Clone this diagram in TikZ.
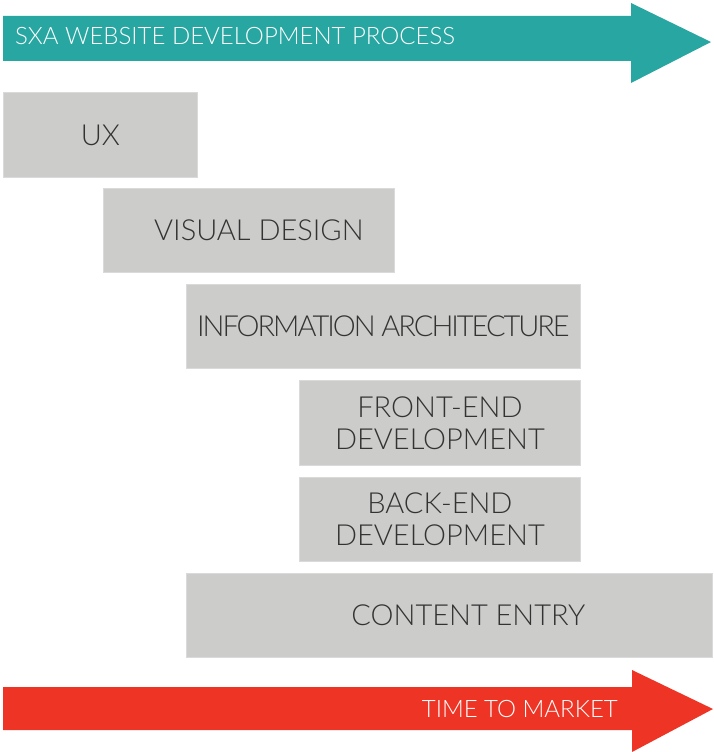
\documentclass[tikz,border=0pt]{standalone}
\usepackage{fontspec}
\setmainfont{Lato Light}
\usepackage{tikz}
\usetikzlibrary{positioning}
\definecolor{sxateal}{HTML}{28A6A1}
\definecolor{marketred}{HTML}{EE3424}
\definecolor{boxgray}{HTML}{CCCCCB}
\definecolor{boxedge}{HTML}{DADADA}
\definecolor{labelgray}{HTML}{333333}
\tikzstyle{phase} = [rectangle, anchor=north west, inner sep=0pt, fill=boxgray, draw=boxedge, line width=0.8pt, text=labelgray, font=\fontsize{29}{32}\selectfont, align=center]
\tikzstyle{banner} = [inner sep=0pt, text=white, font=\fontsize{24}{28}\selectfont]

\begin{document}
\begin{tikzpicture}[x=1pt, y=-1pt]
	\useasboundingbox (0,0) rectangle (713,752);
	% process arrow
	\fill[sxateal] (3,16) -- (631,16) -- (631,3) -- (711,42) -- (631,83) -- (631,61) -- (3,61) -- cycle;
	\node (Process) [banner, anchor=base west] at (15,45) {SXA WEBSITE DEVELOPMENT PROCESS};
	% phases
	\node (UX) [phase, minimum width=194, minimum height=85] at (3,92) {UX};
	\node (Visual) [phase, minimum width=291, minimum height=84] at (103,188) {\hspace*{20pt}VISUAL DESIGN};
	\node (InfoArch) [phase, minimum width=394, minimum height=84] at (186,284) {\addfontfeature{LetterSpace=-7}INFORMATION ARCHITECTURE};
	\node (FrontEnd) [phase, minimum width=281, minimum height=85] at (299,380) {FRONT-END\\DEVELOPMENT};
	\node (BackEnd) [phase, minimum width=281, minimum height=84] at (299,477) {BACK-END\\DEVELOPMENT};
	\node (Content) [phase, minimum width=526, minimum height=84] at (186,573) {\hspace*{38pt}CONTENT ENTRY};
	% market arrow
	\fill[marketred] (3,687) -- (632,687) -- (632,670) -- (713,709) -- (632,752) -- (632,730) -- (3,730) -- cycle;
	\node (Market) [banner, anchor=base east] at (618,717) {TIME TO MARKET};
\end{tikzpicture}
\end{document}
